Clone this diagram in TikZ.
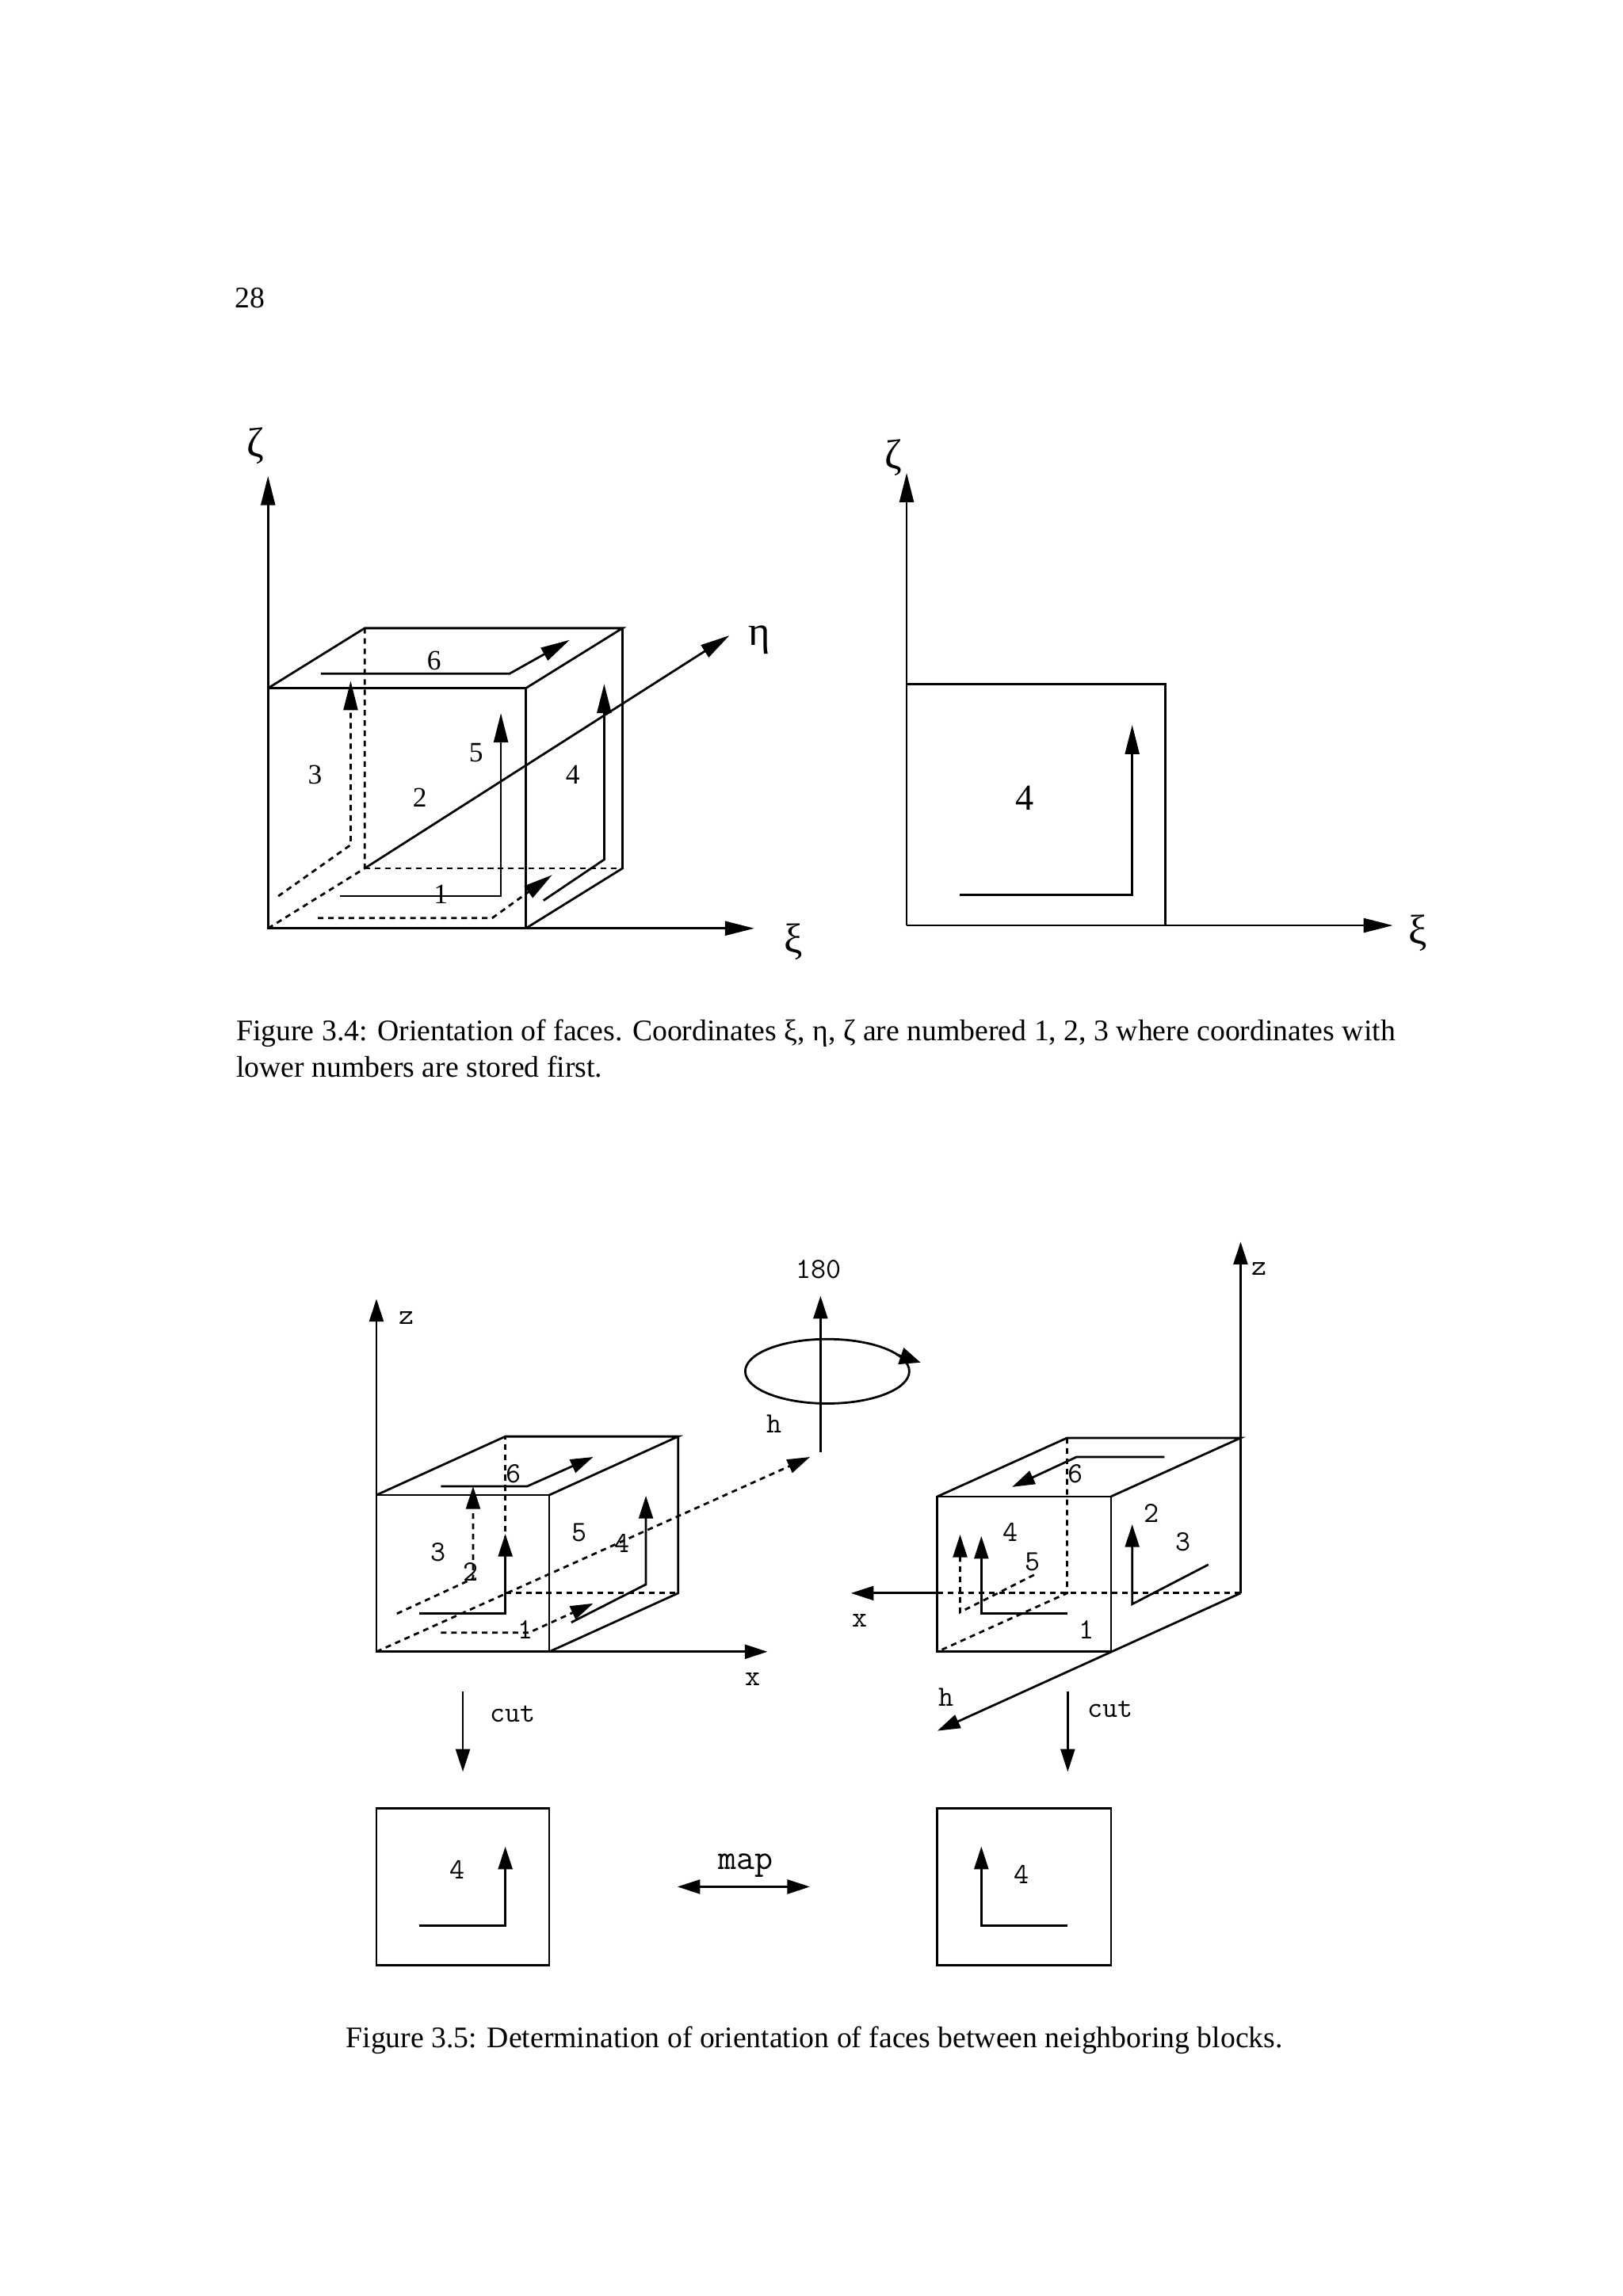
\documentclass[tikz,border=0pt]{standalone}
\usepackage{fontspec}
\setmainfont{Liberation Serif}
\usetikzlibrary{arrows.meta}

\tikzset{
    edge/.style={line width=0.9pt,line join=miter},
    hidden/.style={edge,dash pattern=on 2.3pt off 1.9pt},
    arrowA/.style={-{Triangle[length=12pt,width=5.8pt]}},
    arrowB/.style={-{Triangle[length=9.3pt,width=5.8pt]}},
    bothB/.style={{Triangle[length=9.3pt,width=5.8pt]}-{Triangle[length=9.3pt,width=5.8pt]}},
    serifnum/.style={inner sep=0pt,font=\fontsize{11.5}{13}\selectfont},
    greek/.style={inner sep=0pt,font=\fontsize{17}{18}\selectfont},
    mono/.style={inner sep=0pt,font=\fontsize{12}{13}\selectfont\ttfamily},
    capt/.style={inner sep=0pt,font=\fontsize{12.25}{15}\selectfont}
}

\begin{document}
\begin{tikzpicture}[x=0.6pt,y=-0.6pt]
\useasboundingbox (0,0) rectangle (1108,1568);

\node (pagenum) at (170.5,203.5) [capt] {28};

% figure 3.4, cube
\foreach \name/\px/\py in {aO/183/634,aR/359/634,aT/183/470,aU/359/470,
    bO/249/593,bR/425/593,bT/249/429,bU/425/429,
    aZ/183/325,aX/515/634,aE/498/434,
    six1/219/460,six2/348/460,six3/389/437,
    thr1/190/612,thr2/239.4/577,thr3/239.4/465,
    fiv1/232/612,fiv2/342/612,fiv3/342/487,
    one1/217/627,one2/336/627,one3/377/597.5,
    fou1/371/615,fou2/412.5/587,fou3/412.5/467} {
    \coordinate (\name) at (\px,\py);
}
\draw[edge] (aO) -- (aR) -- (aU) -- (aT) -- cycle;
\draw[edge] (aT) -- (bT) -- (bU) -- (aU);
\draw[edge] (bU) -- (bR) -- (aR);
\draw[hidden] (aO) -- (bO) -- (bT);
\draw[hidden] (bO) -- (bR);
\draw[edge,arrowA] (aT) -- (aZ);
\draw[edge,arrowA] (aR) -- (aX);
\draw[edge,arrowA] (bO) -- (aE);
\draw[edge,arrowA] (six1) -- (six2) -- (six3);
\draw[hidden,arrowA] (thr1) -- (thr2) -- (thr3);
\draw[edge,arrowA] (fiv1) -- (fiv2) -- (fiv3);
\draw[hidden,arrowA] (one1) -- (one2) -- (one3);
\draw[edge,arrowA] (fou1) -- (fou2) -- (fou3);
\foreach \name/\px/\py/\txt in {n6/296.3/451/6,n3/215/529/3,n5/325/514/5,n2/286.6/544.5/2,n4/391/529/4,n1/301/611/1} {
    \node (\name) at (\px,\py) [serifnum] {\txt};
}
\node (lbZ) at (174.3,304.5) [greek] {ζ};
\node (lbE) at (518.7,437) [greek] {η};
\node (lbX) at (541.5,643.5) [greek] {ξ};

% figure 3.4, cut
\foreach \name/\px/\py in {cO/619/632,cR/795.5/632,cU/795.5/467,cT/619/467,cZ/619/323,cX/951/632,
    cin1/655/611,cin2/773/611,cin3/773/495} {
    \coordinate (\name) at (\px,\py);
}
\draw[edge] (cT) -- (cU) -- (cR);
\draw[edge,arrowA] (cO) -- (cZ);
\draw[edge,arrowA] (cO) -- (cX);
\draw[edge,arrowA] (cin1) -- (cin2) -- (cin3);
\node (cn4) at (699.5,545) [inner sep=0pt,font=\fontsize{15}{16}\selectfont] {4};
\node (clbZ) at (610,312.5) [greek] {ζ};
\node (clbX) at (968,637.5) [greek] {ξ};

\node (capA) at (161,716) [capt,anchor=west,align=left]
    {Figure 3.4: Orientation of faces. Coordinates ξ, η, ζ are numbered 1, 2, 3 where coordinates with\\
     lower numbers are stored first.};

% figure 3.5, left block
\foreach \name/\px/\py in {dO/257/1128,dR/375/1128,dT/257/1021,dU/375/1021,
    eO/345/1088,eR/463/1088,eT/345/981,eU/463/981,
    dZ/257/887,dX/524/1128,dH/553/995,
    dsix1/301/1015,dsix2/360/1015,dsix3/405/995,
    dthr1/271/1102,dthr2/323/1078,dthr3/323/1015,
    dfiv1/286/1102,dfiv2/345/1102,dfiv3/345/1047.5,
    done1/301/1115,done2/361/1115,done3/405/1095,
    dfou1/390/1108,dfou2/441/1082,dfou3/441/1021.5} {
    \coordinate (\name) at (\px,\py);
}
\draw[edge] (dO) -- (dR) -- (dU) -- (dT) -- cycle;
\draw[edge] (dT) -- (eT) -- (eU) -- (dU);
\draw[edge] (eU) -- (eR) -- (dR);
\draw[hidden] (eO) -- (eT);
\draw[hidden] (eO) -- (eR);
\draw[edge,arrowB] (dT) -- (dZ);
\draw[edge,arrowB] (dR) -- (dX);
\draw[hidden,arrowB] (dO) -- (dH);
\draw[edge,arrowB] (dsix1) -- (dsix2) -- (dsix3);
\draw[hidden,arrowB] (dthr1) -- (dthr2) -- (dthr3);
\draw[edge,arrowB] (dfiv1) -- (dfiv2) -- (dfiv3);
\draw[hidden,arrowB] (done1) -- (done2) -- (done3);
\draw[edge,arrowB] (dfou1) -- (dfou2) -- (dfou3);
\foreach \name/\px/\py/\txt in {m3/299/1060/3,m2/321.6/1073.6/2,m6/350.8/1006.5/6,m5/395.4/1046.5/5,m4/425/1053.7/4,m1/358.5/1113/1,
    mz/277.4/900/z,mx/513.8/1147/x} {
    \node (\name) at (\px,\py) [mono] {\txt};
}

% rotation
\foreach \name/\px/\py in {rB/560.2/991.5,rT/560.2/885,rC/564.8/936.5,rA/612/925,rH/628.5/930.5} {
    \coordinate (\name) at (\px,\py);
}
\draw[edge,arrowB] (rB) -- (rT);
\draw[edge] (rC) ellipse [x radius=56,y radius=22];
\draw[edge,-{Triangle[length=8.5pt,width=7pt]}] (rA) -- (rH);
\node (rot) at (559,867) [mono] {180};
\node (rh) at (528.6,972.5) [mono] {h};

% figure 3.5, right block
\foreach \name/\px/\py in {fO/640/1128,fR/758.5/1128,fT/640/1022,fU/758.5/1022,
    gO/728.5/1088,gR/847/1088,gL/640/1088,gT/728.5/982,gU/847/982,
    fZ/847/848,fX/581/1088,fH/640/1182,
    fsix1/795/995,fsix2/735/995,fsix3/691/1015.5,
    fdsh1/706/1075.5,fdsh2/655.5/1101,fdsh3/655.5/1048,
    fsol1/729/1102,fsol2/670/1102,fsol3/670/1049,
    fri1/825/1068.5,fri2/773/1095.5,fri3/773/1041} {
    \coordinate (\name) at (\px,\py);
}
\draw[edge] (fO) -- (fR) -- (fU) -- (fT) -- cycle;
\draw[edge] (fT) -- (gT) -- (gU) -- (fU);
\draw[hidden] (gL) -- (gR);
\draw[hidden] (gT) -- (gO) -- (fO);
\draw[edge,arrowB] (gR) -- (fZ);
\draw[edge,arrowB] (gL) -- (fX);
\draw[edge,arrowB] (gR) -- (fH);
\draw[edge,arrowB] (fsix1) -- (fsix2) -- (fsix3);
\draw[hidden,arrowB] (fdsh1) -- (fdsh2) -- (fdsh3);
\draw[edge,arrowB] (fsol1) -- (fsol2) -- (fsol3);
\draw[edge,arrowB] (fri1) -- (fri2) -- (fri3);
\foreach \name/\px/\py/\txt in {k6/734/1006.6/6,k4/690/1046.5/4,k5/705/1066.7/5,k2/786/1033.4/2,k3/808/1053/3,k1/742/1113.2/1,
    kx/587.2/1106.6/x,kh/646/1159.2/h,kz/860/866.5/z} {
    \node (\name) at (\px,\py) [mono] {\txt};
}

% cut faces
\foreach \name/\px/\py in {hA/257/1235,hB/375/1235,hC/375/1342,hD/257/1342,
    iA/640/1235,iB/758.5/1235,iC/758.5/1342,iD/640/1342,
    cutL1/316/1155,cutL2/316/1210,cutR1/729/1155,cutR2/729/1210,
    hin1/286.4/1315,hin2/345/1315,hin3/345/1261,
    iin1/729/1315,iin2/670/1315,iin3/670/1261,
    mapL/462.5/1288.5,mapR/553/1288.5} {
    \coordinate (\name) at (\px,\py);
}
\draw[edge] (hA) -- (hB) -- (hC) -- (hD) -- cycle;
\draw[edge] (iA) -- (iB) -- (iC) -- (iD) -- cycle;
\draw[edge,arrowB] (cutL1) -- (cutL2);
\draw[edge,arrowB] (cutR1) -- (cutR2);
\draw[edge,arrowB] (hin1) -- (hin2) -- (hin3);
\draw[edge,arrowB] (iin1) -- (iin2) -- (iin3);
\draw[edge,bothB] (mapL) -- (mapR);
\node (cutLb) at (350.3,1170.5) [mono] {cut};
\node (cutRb) at (758,1167.4) [mono] {cut};
\node (hn4) at (312,1277) [mono] {4};
\node (in4) at (697.4,1280) [mono] {4};
\node (mapLb) at (509,1274) [mono,font=\fontsize{14.5}{15}\selectfont\ttfamily] {map};

\node (capB) at (556,1393.5) [capt] {Figure 3.5: Determination of orientation of faces between neighboring blocks.};
\end{tikzpicture}
\end{document}
